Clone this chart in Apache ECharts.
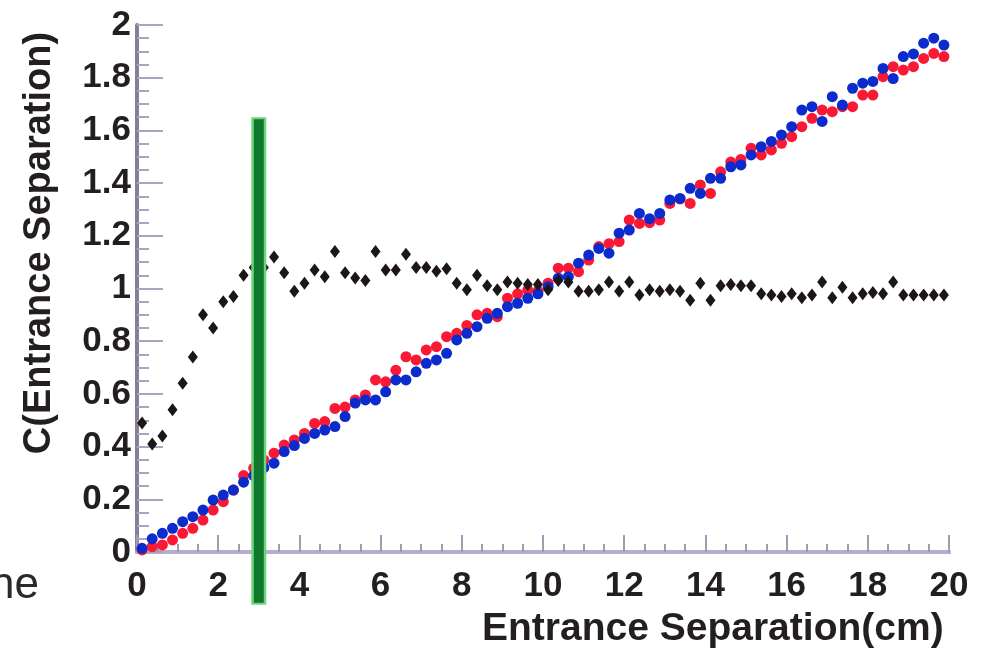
<!DOCTYPE html>
<html>
<head>
<meta charset="utf-8">
<script src="https://cdn.jsdelivr.net/npm/echarts@6/dist/echarts.min.js"></script>
<style>
html,body{margin:0;padding:0;background:#fff;}
#chart{width:987px;height:653px;}
</style>
</head>
<body>
<div id="chart"></div>
<script>
// Bin centers (cm)
const xs = [0.125,0.375,0.625,0.875,1.125,1.375,1.625,1.875,2.125,2.375,2.625,2.875,3.125,3.375,3.625,3.875,4.125,4.375,4.625,4.875,
5.125,5.375,5.625,5.875,6.125,6.375,6.625,6.875,7.125,7.375,7.625,7.875,8.125,8.375,8.625,8.875,9.125,9.375,9.625,9.875,
10.125,10.375,10.625,10.875,11.125,11.375,11.625,11.875,12.125,12.375,12.625,12.875,13.125,13.375,13.625,13.875,14.125,14.375,14.625,14.875,
15.125,15.375,15.625,15.875,16.125,16.375,16.625,16.875,17.125,17.375,17.625,17.875,18.125,18.375,18.625,18.875,19.125,19.375,19.625,19.875];

// Black: correlation ratio
const blackY = [0.49,0.41,0.44,0.54,0.64,0.74,0.90,0.85,0.95,0.97,1.05,1.08,1.08,1.12,1.06,0.99,1.02,1.07,1.045,1.14,
1.06,1.04,1.03,1.14,1.07,1.07,1.13,1.08,1.08,1.065,1.075,1.02,0.995,1.05,1.01,0.995,1.025,1.02,1.015,1.015,
0.995,1.03,1.025,0.99,0.99,0.995,1.025,0.99,1.025,0.975,0.995,0.99,0.995,0.99,0.955,1.02,0.955,1.01,1.015,1.01,
1.01,0.98,0.975,0.97,0.98,0.965,0.975,1.025,0.965,1.005,0.965,0.98,0.985,0.98,1.025,0.975,0.975,0.975,0.975,0.975];

// Red series
const redY = [0.008,0.02,0.027,0.046,0.071,0.09,0.121,0.159,0.191,0.235,0.29,0.318,0.349,0.375,0.406,0.425,0.45,0.488,0.495,0.545,
0.55,0.577,0.596,0.653,0.646,0.69,0.741,0.729,0.767,0.779,0.817,0.83,0.86,0.9,0.906,0.893,0.963,0.98,0.994,0.99,
1.02,1.077,1.077,1.064,1.108,1.159,1.17,1.178,1.26,1.247,1.25,1.26,1.323,1.34,1.323,1.393,1.361,1.443,1.48,1.49,
1.532,1.507,1.526,1.551,1.576,1.614,1.646,1.677,1.671,1.69,1.69,1.734,1.734,1.804,1.842,1.829,1.842,1.873,1.892,1.88];

// Blue series
const blueY = [0.014,0.05,0.071,0.09,0.115,0.134,0.159,0.197,0.216,0.235,0.265,0.29,0.32,0.337,0.381,0.404,0.431,0.45,0.463,0.476,
0.514,0.565,0.577,0.577,0.608,0.653,0.653,0.684,0.716,0.729,0.754,0.805,0.83,0.855,0.887,0.906,0.931,0.944,0.963,0.98,
1.007,1.039,1.045,1.096,1.127,1.152,1.134,1.21,1.222,1.285,1.265,1.285,1.336,1.342,1.38,1.361,1.418,1.418,1.462,1.469,
1.507,1.538,1.558,1.583,1.614,1.677,1.69,1.634,1.728,1.696,1.76,1.779,1.786,1.835,1.797,1.88,1.89,1.931,1.95,1.924];

// Green cut marker: [x, top, bottom]
const cutMarker = [[3, 1.65, -0.2]];

const xTitle = 'Entrance Separation(cm)';
const yTitle = 'C(Entrance Separation)';

const pair = (ys) => xs.map((x, i) => [x, ys[i]]);
const FONT = 'Liberation Sans, Arial, Helvetica, sans-serif';

const chart = echarts.init(document.getElementById('chart'), null, {renderer: 'canvas'});
chart.setOption({
  animation: false,
  backgroundColor: '#ffffff',
  grid: {left: 137, right: 38, top: 25, bottom: 101, containLabel: false},
  xAxis: [{
    type: 'value', min: 0, max: 20, interval: 2,
    axisLine: {show: true, onZero: false, lineStyle: {color: '#8c8898', width: 3}},
    axisTick: {show: true, inside: true, length: 17, lineStyle: {color: '#a09bb4', width: 2}},
    minorTick: {show: true, splitNumber: 4, length: 8, lineStyle: {color: '#a09bb4', width: 2}},
    splitLine: {show: false},
    axisLabel: {margin: 17, color: '#231f20', fontFamily: FONT, fontWeight: 'bold', fontSize: 35}
  }, {
    type: 'value', min: 0, max: 20, position: 'top',
    axisLine: {show: true, lineStyle: {color: '#b4adcb', width: 4}},
    axisTick: {show: false}, axisLabel: {show: false}, splitLine: {show: false}
  }],
  yAxis: [{
    type: 'value', min: 0, max: 2, interval: 0.2,
    axisLine: {show: true, onZero: false, lineStyle: {color: '#aaa4c2', width: 3}},
    axisTick: {show: true, inside: true, length: 26, lineStyle: {color: '#aaa4c2', width: 2}},
    minorTick: {show: true, splitNumber: 4, length: 12, lineStyle: {color: '#aaa4c2', width: 2}},
    splitLine: {show: false},
    axisLabel: {margin: 6, color: '#231f20', fontFamily: FONT, fontWeight: 'bold', fontSize: 35}
  }, {
    type: 'value', min: 0, max: 2, position: 'right',
    axisLine: {show: true, lineStyle: {color: '#857e96', width: 4}},
    axisTick: {show: false}, axisLabel: {show: false}, splitLine: {show: false}
  }],
  graphic: [
    {type: 'text', x: 40, y: 243, rotation: Math.PI / 2,
     style: {text: yTitle, font: 'bold 38px ' + FONT, fill: '#231f20', textAlign: 'center', textVerticalAlign: 'middle'}},
    {type: 'text', left: 482, top: 610,
     style: {text: xTitle, font: 'bold 39px ' + FONT, fill: '#231f20'}},
    {type: 'text', x: -10, y: 608,
     style: {text: 'ne', font: '44px ' + FONT, fill: '#2a2a2a', textVerticalAlign: 'bottom'}}
  ],
  series: [
    {type: 'scatter', name: 'red', data: pair(redY), symbol: 'circle', symbolSize: 11,
     itemStyle: {color: '#fb1834', opacity: 1}, z: 2},
    {type: 'scatter', name: 'blue', data: pair(blueY), symbol: 'circle', symbolSize: 11,
     itemStyle: {color: '#0b2bcc', opacity: 1}, z: 3},
    {type: 'scatter', name: 'black', data: pair(blackY), symbol: 'diamond', symbolSize: [10, 13],
     itemStyle: {color: '#1c1619', opacity: 1}, z: 4},
    {type: 'custom', name: 'cut', data: cutMarker, clip: false, z: 5,
     renderItem: function (params, api) {
       const p1 = api.coord([api.value(0), api.value(1)]);
       const p2 = api.coord([api.value(0), api.value(2)]);
       return {type: 'group', children: [
         {type: 'line', shape: {x1: p1[0], y1: p1[1], x2: p2[0], y2: p2[1]},
          style: {stroke: '#6fd37f', lineWidth: 15, lineCap: 'butt'}},
         {type: 'line', shape: {x1: p1[0], y1: p1[1] + 2, x2: p2[0], y2: p2[1] - 2},
          style: {stroke: '#10782a', lineWidth: 10, lineCap: 'butt'}}
       ]};
     }}
  ]
});
</script>
</body>
</html>
